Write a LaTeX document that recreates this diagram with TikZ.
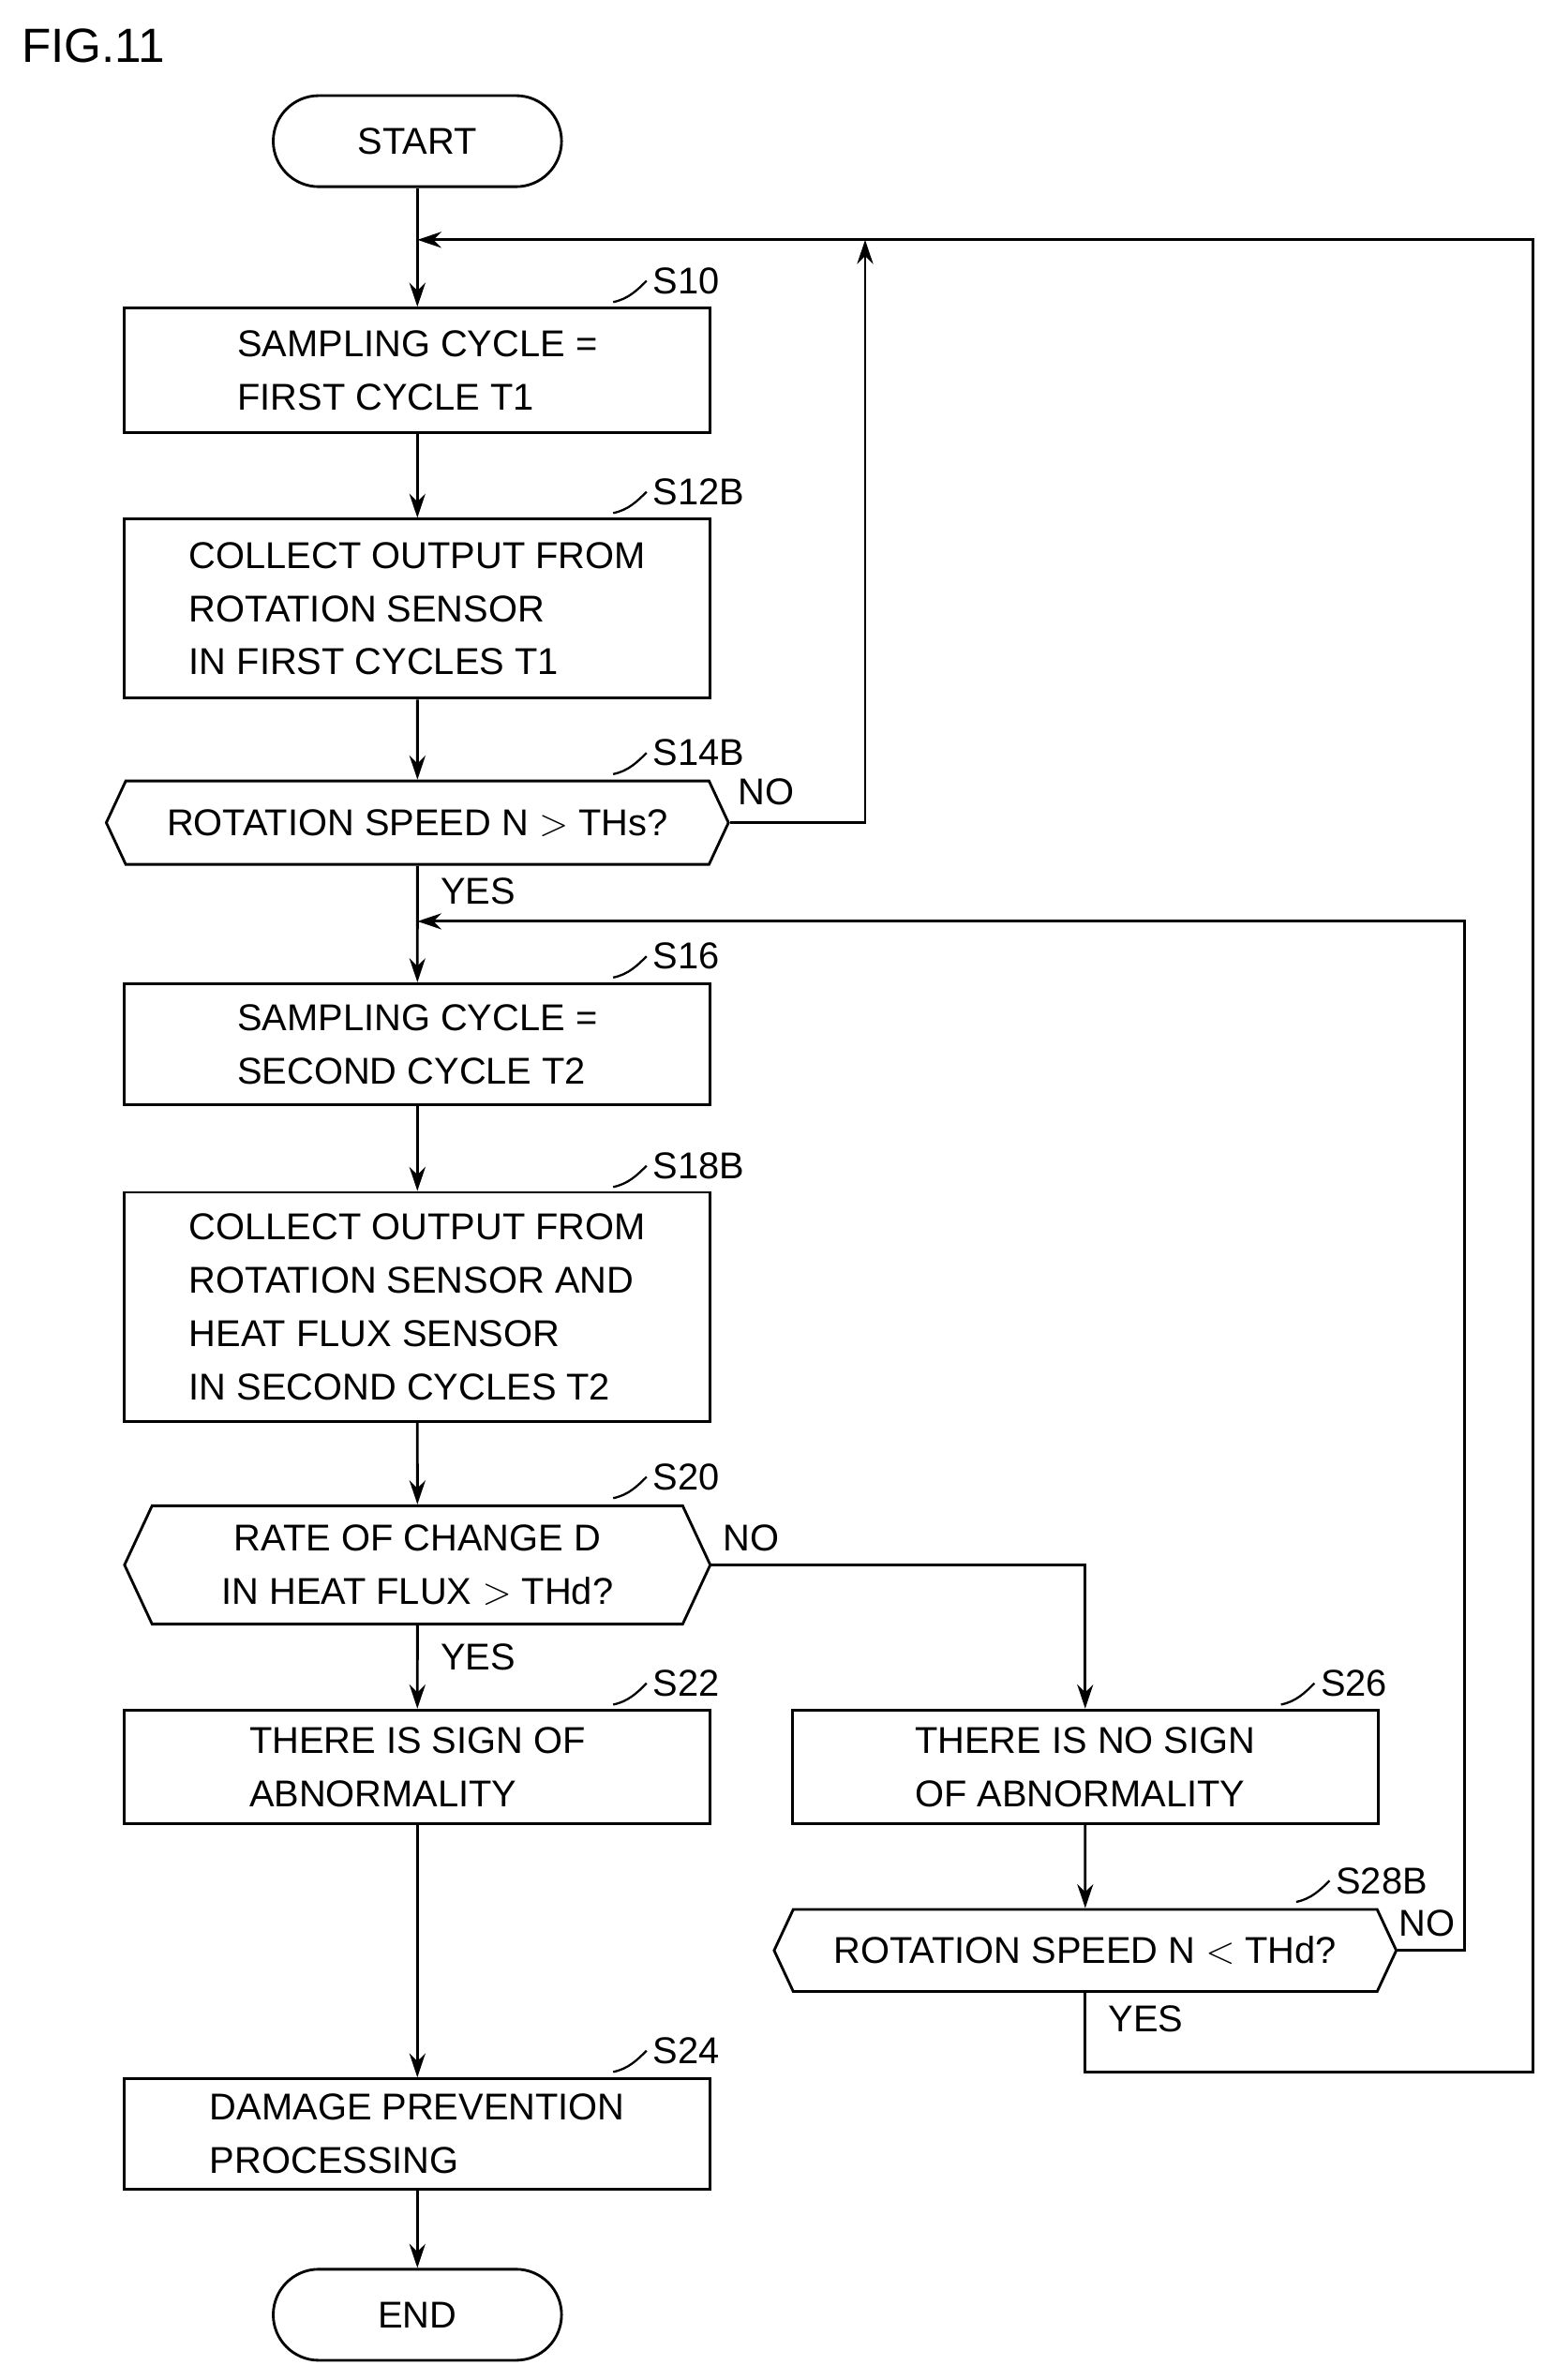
\documentclass[tikz,border=0pt]{standalone}
\usepackage{fontspec}
\setmainfont{Liberation Sans}
\usetikzlibrary{shapes.symbols,arrows.meta}
\tikzset{
  every node/.style={font=\fontsize{14}{20}\selectfont},
  proc/.style={draw,line width=1pt,minimum width=7.72cm,align=left,inner sep=2pt},
  term/.style={draw,line width=1pt,rounded corners=0.6cm,minimum width=3.8cm,minimum height=1.2cm},
  dec/.style={draw,line width=1pt,signal,signal to=east and west,signal pointer angle=130,align=center,inner ysep=2pt},
  flow/.style={line width=1pt,-{Stealth[length=9pt,width=6pt]}},
  line/.style={line width=1pt}
}
\newcommand{\steplbl}[3]{\draw[line width=0.8pt] (#1,#2) .. controls +(10,-2) and +(-6,6) .. ++(22,-14) node[right,inner sep=2pt]{#3};}
\begin{document}
\begin{tikzpicture}[x=0.02cm,y=-0.02cm]
\useasboundingbox (0,0) rectangle (1024,1568);
\node[anchor=west] (fig) at (8,30) {\fontsize{18}{20}\selectfont FIG.11};
% main column
\node[term] (start) at (275,93) {START};
\node[proc,minimum height=1.64cm] (s10) at (275,244) {SAMPLING CYCLE =\\FIRST CYCLE T1};
\node[proc,minimum height=2.36cm] (s12) at (275,401) {COLLECT OUTPUT FROM\\ROTATION SENSOR\\IN FIRST CYCLES T1};
\node[dec,minimum width=8.2cm,minimum height=1.1cm] (s14) at (275,542) {ROTATION SPEED N $>$ THs?};
\node[proc,minimum height=1.6cm] (s16) at (275,688) {SAMPLING CYCLE =\\SECOND CYCLE T2};
\node[proc,minimum height=3.02cm] (s18) at (275,861) {COLLECT OUTPUT FROM\\ROTATION SENSOR AND\\HEAT FLUX SENSOR\\IN SECOND CYCLES T2};
\node[dec,minimum width=7.72cm,minimum height=1.56cm] (s20) at (275,1031) {RATE OF CHANGE D\\IN HEAT FLUX $>$ THd?};
\node[proc,minimum height=1.5cm] (s22) at (275,1164) {THERE IS SIGN OF\\ABNORMALITY};
\node[proc,minimum height=1.46cm] (s24) at (275,1406) {DAMAGE PREVENTION\\PROCESSING};
\node[term] (end) at (275,1525) {END};
% right column
\node[proc,minimum height=1.5cm] (s26) at (715,1164) {THERE IS NO SIGN\\OF ABNORMALITY};
\node[dec,minimum width=8.2cm,minimum height=1.08cm] (s28) at (715,1285) {ROTATION SPEED N $<$ THd?};
% loop points
\coordinate (j1) at (275,158);
\coordinate (j2) at (275,607);
% connectors
\draw[flow] (start) -- (s10);
\draw[flow] (s10) -- (s12);
\draw[flow] (s12) -- (s14);
\draw[flow] (s14) -- (s16);
\draw[flow] (s16) -- (s18);
\draw[flow] (s18) -- (s20);
\draw[flow] (s20) -- (s22);
\draw[flow] (s22) -- (s24);
\draw[flow] (s24) -- (end);
\draw[flow] (s20.east) -| (s26);
\draw[flow] (s26) -- (s28);
\draw[flow] (s14.east) -| (570,158);
\draw[flow] (s28.south) |- (1010,1365) |- (j1);
\draw[flow] (s28.east) -| (965,607) -- (j2);
% branch labels
\node at (505,522) {NO};
\node at (315,587) {YES};
\node at (495,1013) {NO};
\node at (315,1092) {YES};
\node at (940,1267) {NO};
\node at (755,1330) {YES};
% step labels
\steplbl{404}{199}{S10}
\steplbl{404}{338}{S12B}
\steplbl{404}{510}{S14B}
\steplbl{404}{644}{S16}
\steplbl{404}{782}{S18B}
\steplbl{404}{987}{S20}
\steplbl{404}{1123}{S22}
\steplbl{844}{1123}{S26}
\steplbl{854}{1253}{S28B}
\steplbl{404}{1365}{S24}
\end{tikzpicture}
\end{document}
